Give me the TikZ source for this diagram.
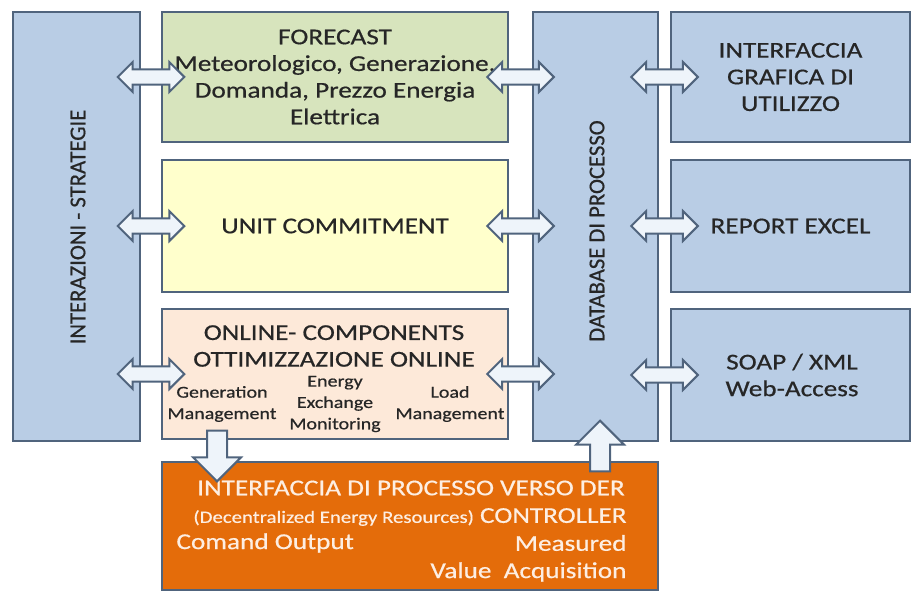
\documentclass[tikz,border=0pt]{standalone}
\usepackage{fontspec}
\setmainfont{Carlito}[FakeStretch=1.2, FakeBold=0.6]
\newfontfamily\vertfont{Carlito}[FakeBold=0.6]
\usetikzlibrary{shapes.arrows,calc}

\definecolor{boxblue}{RGB}{185,205,229}
\definecolor{boxline}{RGB}{80,100,125}
\definecolor{fcgreen}{RGB}{215,228,189}
\definecolor{ucyellow}{RGB}{255,255,204}
\definecolor{olpeach}{RGB}{253,233,217}
\definecolor{derorange}{RGB}{228,108,10}
\definecolor{txtgray}{RGB}{38,38,38}
\definecolor{txtlight}{RGB}{253,238,226}
\definecolor{arrfill}{RGB}{238,244,250}

\tikzset{every picture/.style={line width=0.75pt}}
\tikzset{
  blk/.style={draw=boxline, line width=1.5pt, inner sep=0pt},
  bigtxt/.style={inner sep=0.75pt, text=txtgray, align=center, font=\fontsize{17}{20}\selectfont},
  verttxt/.style={inner sep=0.75pt, text=txtgray, rotate=90, font=\vertfont\fontsize{17}{20}\selectfont},
  smalltxt/.style={inner sep=0.75pt, text=txtgray, align=center, font=\fontsize{12.5}{16}\selectfont},
  dertxt/.style={inner sep=0.75pt, text=txtlight, font=\fontsize{17}{20}\selectfont},
  dblarr/.style={double arrow, draw=boxline, fill=arrfill, line width=1.5pt, inner xsep=0pt, inner ysep=4.9pt, double arrow head extend=5.6pt, minimum height=50pt},
  sglarr/.style={single arrow, draw=boxline, fill=arrfill, line width=1.5pt, inner xsep=0pt, inner ysep=6.75pt, single arrow head extend=10.5pt, minimum height=38pt}
}

\begin{document}
\begin{tikzpicture}[x=0.75pt,y=0.75pt,yscale=-1,xscale=1]
        \useasboundingbox (0,0) rectangle (917,592);

        %Shape: Rectangle (left column)
        \draw (76.5,226.5) node (lft) [blk, fill=boxblue, minimum width=95.25pt, minimum height=321.75pt] {};
        %Shape: Rectangle (middle column)
        \draw (335,77) node (fc) [blk, fill=fcgreen, minimum width=259.5pt, minimum height=97.5pt] {};
        \draw (335,226) node (uc) [blk, fill=ucyellow, minimum width=259.5pt, minimum height=99pt] {};
        \draw (335,374) node (onl) [blk, fill=olpeach, minimum width=259.5pt, minimum height=97.5pt] {};
        %Shape: Rectangle (database)
        \draw (595.5,226.5) node (db) [blk, fill=boxblue, minimum width=93.75pt, minimum height=321.75pt] {};
        %Shape: Rectangle (right column)
        \draw (790.5,77) node (gui) [blk, fill=boxblue, minimum width=179.25pt, minimum height=97.5pt] {};
        \draw (790.5,226) node (rep) [blk, fill=boxblue, minimum width=179.25pt, minimum height=99pt] {};
        \draw (790.5,375) node (soap) [blk, fill=boxblue, minimum width=179.25pt, minimum height=99pt] {};
        %Shape: Rectangle (bottom)
        \draw (410,526) node (der) [blk, fill=derorange, minimum width=372pt, minimum height=96pt] {};

        % Text Node
        \draw (78,227) node (lfttxt) [verttxt] {INTERAZIONI - STRATEGIE};
        % Text Node
        \draw (597,231) node (dbtxt) [verttxt] {DATABASE DI PROCESSO};
        % Text Node
        \draw (335,77) node (fctxt) [bigtxt] {FORECAST\\Meteorologico, Generazione,\\Domanda, Prezzo Energia\\Elettrica};
        % Text Node
        \draw (335,226) node (uctxt) [bigtxt] {UNIT COMMITMENT};
        % Text Node
        \draw (334,346) node (oltxt) [bigtxt] {ONLINE- COMPONENTS\\OTTIMIZZAZIONE ONLINE};
        % Text Node
        \draw (222,404) node (gentxt) [smalltxt] {Generation\\Management};
        % Text Node
        \draw (335,404) node (exctxt) [smalltxt] {Energy\\Exchange\\Monitoring};
        % Text Node
        \draw (450,404) node (loadtxt) [smalltxt] {Load\\Management};
        % Text Node
        \draw (790.5,77) node (guitxt) [bigtxt] {INTERFACCIA\\GRAFICA DI\\UTILIZZO};
        % Text Node
        \draw (790.5,226) node (reptxt) [bigtxt] {REPORT EXCEL};
        % Text Node
        \draw (792,375) node (soaptxt) [bigtxt] {SOAP / XML\\Web-Access};
        % Text Node
        \draw (411,488) node (dertxt) [dertxt] {INTERFACCIA DI PROCESSO VERSO DER};
        % Text Node
        \draw (410,517) node (ctrltxt) [dertxt] {{\fontsize{13}{14}\selectfont (Decentralized Energy Resources)} CONTROLLER};
        % Text Node
        \draw (175,543) node (cmdtxt) [dertxt, anchor=west] {Comand Output};
        % Text Node
        \draw (628,543) node (meastxt) [dertxt, anchor=east] {Measured};
        % Text Node
        \draw (628,572) node (acqtxt) [dertxt, anchor=east] {Value\ \ Acquisition};

        %Block Arrows (left - middle)
        \node (a1) [dblarr] at ($(lft.east |- fc)!0.5!(fc.west)$) {};
        \node (a2) [dblarr] at ($(lft.east |- uc)!0.5!(uc.west)$) {};
        \node (a3) [dblarr] at ($(lft.east |- onl)!0.5!(onl.west)$) {};
        %Block Arrows (middle - database)
        \node (a4) [dblarr] at ($(fc.east)!0.5!(db.west |- fc)$) {};
        \node (a5) [dblarr] at ($(uc.east)!0.5!(db.west |- uc)$) {};
        \node (a6) [dblarr] at ($(onl.east)!0.5!(db.west |- onl)$) {};
        %Block Arrows (database - right)
        \node (a7) [dblarr] at ($(db.east |- gui)!0.5!(gui.west)$) {};
        \node (a8) [dblarr] at ($(db.east |- rep)!0.5!(rep.west)$) {};
        \node (a9) [dblarr] at ($(db.east |- soap)!0.5!(soap.west)$) {};
        %Block Arrows (vertical)
        \draw (217,451) node (adown) [sglarr, rotate=-90] {};
        \draw (600,451) node (aup) [sglarr, rotate=90] {};

    \end{tikzpicture}
\end{document}
